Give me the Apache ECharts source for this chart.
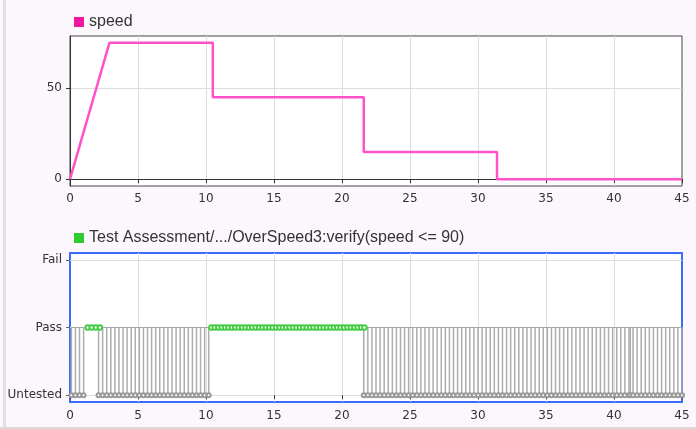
<!DOCTYPE html>
<html><head><meta charset="utf-8">
<script src="https://cdn.jsdelivr.net/npm/echarts@6/dist/echarts.min.js"></script>
<style>html,body{margin:0;padding:0;background:#fcf7fc}#c{width:696px;height:429px}</style>
</head><body><div id="c"></div>
<script>
// ---- data ----
const speedTime  = [0, 2.9, 10.5, 10.5, 21.6, 21.6, 31.4, 31.4, 45];
const speedValue = [0, 75,  75,   45,   45,   15,   15,   0,    0];
const speedTicks = [0, 50];

const levelNames  = ['Untested', 'Pass', 'Fail'];
const levelValues = [0, 1, 2];

const untestedRun1 = [0.1, 0.4, 0.7, 1.0];
const untestedRun2 = [2.1, 2.4, 2.7, 3.0, 3.3, 3.6, 3.9, 4.2, 4.5, 4.8, 5.1, 5.4, 5.7, 6.0, 6.3, 6.6, 6.9, 7.2, 7.5, 7.8, 8.1, 8.4, 8.7, 9.0, 9.3, 9.6, 9.9, 10.2];
const untestedRun3 = [21.6, 21.9, 22.2, 22.5, 22.8, 23.1, 23.4, 23.7, 24.0, 24.3, 24.6, 24.9, 25.2, 25.5, 25.8, 26.1, 26.4, 26.7, 27.0, 27.3, 27.6, 27.9, 28.2, 28.5, 28.8, 29.1, 29.4, 29.7, 30.0, 30.3, 30.6, 30.9, 31.2, 31.5, 31.8, 32.1, 32.4, 32.7, 33.0, 33.3, 33.6, 33.9, 34.2, 34.5, 34.8, 35.1, 35.4, 35.7, 36.0, 36.3, 36.6, 36.9, 37.2, 37.5, 37.8, 38.1, 38.4, 38.7, 39.0, 39.3, 39.6, 39.9, 40.2, 40.5, 40.8, 41.1, 41.2, 41.4, 41.7, 42.0, 42.3, 42.6, 42.9, 43.2, 43.5, 43.8, 44.1, 44.4, 44.7, 45.0];

const passRun1 = [1.3, 1.6, 1.9, 2.2];
const passRun2 = [10.4, 10.65, 10.9, 11.15, 11.4, 11.65, 11.9, 12.15, 12.4, 12.65, 12.9, 13.15, 13.4, 13.65, 13.9, 14.15, 14.4, 14.65, 14.9, 15.15, 15.4, 15.65, 15.9, 16.15, 16.4, 16.65, 16.9, 17.15, 17.4, 17.65, 17.9, 18.15, 18.4, 18.65, 18.9, 19.15, 19.4, 19.65, 19.9, 20.15, 20.4, 20.65, 20.9, 21.15, 21.4, 21.65];

const speedName  = 'speed';
const assessName = 'Test Assessment/.../OverSpeed3:verify(speed <= 90)';

// ---- chart ----
const UNTESTED = levelValues[0], PASS = levelValues[1];
const untestedRuns = [untestedRun1, untestedRun2, untestedRun3];
const passRuns = [passRun1, passRun2];
const allUntested = [].concat(...untestedRuns);

const tickFont = {fontFamily: 'DejaVu Sans', fontSize: 12, color: '#333'};
const series = [];
series.push({
  name: speedName, type: 'line', xAxisIndex: 0, yAxisIndex: 0,
  data: speedTime.map((t, i) => [t, speedValue[i]]),
  symbol: 'none', lineStyle: {color: '#ff52c8', width: 2.5},
  itemStyle: {color: '#f2169e'}, silent: true
});
series.push({
  type: 'bar', xAxisIndex: 1, yAxisIndex: 1, barWidth: 1.5,
  data: allUntested.map(t => [t, PASS]),
  itemStyle: {color: '#adadad'}, silent: true
});
untestedRuns.forEach(run => {
  series.push({
    type: 'line', xAxisIndex: 1, yAxisIndex: 1,
    data: [[run[0], PASS], [run[run.length - 1], PASS]],
    symbol: 'none', lineStyle: {color: '#a6a6a6', width: 1}, silent: true
  });
  series.push({
    type: 'line', xAxisIndex: 1, yAxisIndex: 1,
    data: run.map(t => [t, UNTESTED]),
    symbol: 'emptyCircle', symbolSize: 4, showAllSymbol: true,
    itemStyle: {color: '#999999', borderWidth: 1},
    lineStyle: {color: '#a6a6a6', width: 1}, silent: true
  });
});
passRuns.forEach(run => {
  series.push({
    name: assessName, type: 'line', xAxisIndex: 1, yAxisIndex: 1,
    data: run.map(t => [t, PASS]),
    symbol: 'emptyCircle', symbolSize: 4.5, showAllSymbol: true,
    itemStyle: {color: '#44cc44', borderWidth: 1},
    lineStyle: {color: '#80e080', width: 1}, silent: true
  });
});

const chart = echarts.init(document.getElementById('c'), null, {renderer: 'canvas'});
chart.setOption({
  animation: false,
  backgroundColor: '#fcf7fc',
  legend: [
    {left: 69, top: 9, icon: 'rect', itemWidth: 10, itemHeight: 10, selectedMode: false,
     textStyle: {fontFamily: 'Liberation Sans', fontSize: 16, color: '#333'},
     data: [{name: speedName, itemStyle: {color: '#f2169e', borderWidth: 0}}]},
    {left: 69, top: 225, icon: 'rect', itemWidth: 10, itemHeight: 10, selectedMode: false,
     textStyle: {fontFamily: 'Liberation Sans', fontSize: 16, color: '#333'},
     data: [{name: assessName, itemStyle: {color: '#2ecc2e', borderWidth: 0}}]}
  ],
  grid: [
    {left: 70, top: 36, width: 612, height: 150, show: true, backgroundColor: '#ffffff', borderColor: '#444', borderWidth: 1},
    {left: 70, top: 253, width: 612, height: 149, show: true, backgroundColor: '#ffffff', borderColor: '#3a6cff', borderWidth: 2}
  ],
  xAxis: [
    {type: 'value', gridIndex: 0, min: 0, max: 45, interval: 5,
     axisLine: {show: true, lineStyle: {color: '#333'}},
     axisTick: {show: true, length: 4, lineStyle: {color: '#333'}},
     axisLabel: Object.assign({margin: 7}, tickFont),
     splitLine: {show: true, showMinLine: false, showMaxLine: false, lineStyle: {color: '#dddddd'}}},
    {type: 'value', gridIndex: 1, min: 0, max: 45, interval: 5,
     axisLine: {show: false},
     axisTick: {show: true, length: 4, lineStyle: {color: '#333'}},
     axisLabel: Object.assign({margin: 8}, tickFont),
     splitLine: {show: true, showMinLine: false, showMaxLine: false, lineStyle: {color: '#dddddd'}}}
  ],
  yAxis: [
    {type: 'value', gridIndex: 0, min: -3.75, max: 78.75,
     axisLine: {show: true, lineStyle: {color: '#333'}},
     axisTick: {show: true, length: 4, lineStyle: {color: '#333'}, customValues: speedTicks},
     axisLabel: Object.assign({margin: 8, customValues: speedTicks}, tickFont),
     splitLine: {show: true, lineStyle: {color: '#dddddd'}}},
    {type: 'value', gridIndex: 1, min: -0.1, max: 2.1,
     axisLine: {show: false},
     axisTick: {show: true, length: 4, lineStyle: {color: '#666'}, customValues: levelValues},
     axisLabel: Object.assign({margin: 8, customValues: levelValues,
       formatter: v => levelNames[levelValues.indexOf(v)] || ''}, tickFont),
     splitLine: {show: true, lineStyle: {color: '#dddddd'}}}
  ],
  graphic: [
    {type: 'rect', shape: {x: 3, y: 0, width: 3, height: 429}, style: {fill: '#e2dfe2'}, silent: true},
    {type: 'rect', shape: {x: 0, y: 427, width: 696, height: 2}, style: {fill: '#d9d9d9'}, silent: true}
  ],
  series: series
});
</script>
</body></html>
